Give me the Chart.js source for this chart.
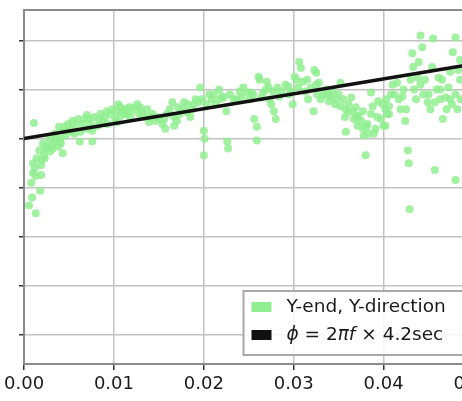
<!DOCTYPE html>
<html>
<head>
<meta charset="utf-8">
<script src="https://cdn.jsdelivr.net/npm/chart.js@4"></script>
<style>
  html, body { margin: 0; padding: 0; overflow: hidden; background: #fff; }
  canvas { display: block; }
</style>
</head>
<body>
<canvas id="grafico" width="520" height="401"></canvas>
<script>
// scatter points (frequency, phase)
const pointX = [
  0.0011, 0.0013, 0.0009, 0.0018, 0.0010, 0.0013, 0.0019, 0.0019, 0.0022, 0.0029,
  0.0024, 0.0030, 0.0034, 0.0040, 0.0038, 0.0043, 0.0041, 0.0046, 0.0049, 0.0052,
  0.0057, 0.0062, 0.0063, 0.0070, 0.0071, 0.0076, 0.0076, 0.0082, 0.0087, 0.0093,
  0.0101, 0.0107, 0.0107, 0.0104, 0.0112,
  0.00055, 0.0008, 0.0012, 0.0014, 0.0010, 0.0017, 0.0021, 0.0019,
  0.0023, 0.0025, 0.0028, 0.0032, 0.0034, 0.0036, 0.0039, 0.0043, 0.0045, 0.0050,
  0.0054, 0.0056, 0.0060, 0.0065, 0.0067, 0.0072, 0.0074, 0.0078, 0.0083, 0.0085,
  0.0090, 0.0092, 0.0096, 0.0098, 0.0103, 0.0105, 0.0109,
  0.0113, 0.0117, 0.0126, 0.0128, 0.0131, 0.0139, 0.0146, 0.0154, 0.0157, 0.0165,
  0.0167, 0.0170, 0.0178, 0.0181, 0.0187, 0.0194, 0.0196, 0.0200, 0.0201, 0.0200,
  0.0206, 0.0209, 0.0217, 0.0220, 0.0225, 0.0226, 0.0227,
  0.0115, 0.0118, 0.0120, 0.0123, 0.0129, 0.0134, 0.0137, 0.0140, 0.0143, 0.0148,
  0.0151, 0.0156, 0.0159, 0.0162, 0.0167, 0.0171, 0.0173, 0.0176, 0.0182, 0.0185,
  0.0189, 0.0191, 0.0198,
  0.0233, 0.0240, 0.0248, 0.0253, 0.0256, 0.0259, 0.0259, 0.0261, 0.0262, 0.0266,
  0.0270, 0.0273, 0.0275, 0.0278, 0.0280, 0.0284, 0.0294, 0.0299, 0.0301, 0.0306,
  0.0308, 0.0310, 0.0316, 0.0322, 0.0323, 0.0325,
  0.0203, 0.0211, 0.0213, 0.0218, 0.0222, 0.0229, 0.0236, 0.0242, 0.0244, 0.0251,
  0.0255, 0.0264, 0.0269, 0.0272, 0.0277, 0.0282, 0.0286, 0.0291, 0.0295, 0.0297,
  0.0303, 0.0305, 0.0313, 0.0315, 0.0319, 0.0326, 0.0330,
  0.0325, 0.0328, 0.0333, 0.0336, 0.0341, 0.0347, 0.0352, 0.0352, 0.0358, 0.0358,
  0.0361, 0.0364, 0.0367, 0.0371, 0.0372, 0.0377, 0.0378, 0.0380, 0.0382, 0.0386,
  0.0388, 0.0389, 0.0393, 0.0394, 0.0400, 0.0402, 0.0406,
  0.0337, 0.0339, 0.0344, 0.0346, 0.0350, 0.0355, 0.0357, 0.0361, 0.0366, 0.0369,
  0.0370, 0.0375, 0.0377, 0.0381, 0.0383, 0.0386, 0.0391, 0.0397, 0.0399, 0.0403,
  0.0408,
  0.0406, 0.0404, 0.0402, 0.0410, 0.0415, 0.0421, 0.0424, 0.0427, 0.0428, 0.0429,
  0.0432, 0.0433, 0.0438, 0.0439, 0.0441, 0.0443, 0.0444, 0.0449, 0.0454, 0.0455,
  0.0457, 0.0457, 0.0461, 0.0463, 0.0466, 0.0469, 0.0474, 0.0476, 0.0477, 0.0480,
  0.0480, 0.0482, 0.0485, 0.0485,
  0.0412, 0.0417, 0.0419, 0.0422, 0.0425, 0.0430, 0.0434, 0.0436, 0.0441, 0.0446,
  0.0450, 0.0452, 0.0459, 0.0463, 0.0465, 0.0470, 0.0472, 0.0474, 0.0480, 0.0483,
  0.0486
];
const pointY = [
  0.32, -1.52, -1.20, -1.06, -0.70, -0.76, -0.74, -0.54, -0.34, -0.26,
  -0.20, -0.14, -0.06, 0.00, -0.16, -0.30, -0.10, 0.06, 0.30, 0.14,
  0.26, -0.06, 0.14, 0.48, 0.20, -0.06, 0.16, 0.26, 0.36, 0.30,
  0.40, 0.64, 0.46, 0.34, 0.50,
  -1.36, -0.90, -0.60, -0.40, -0.50, -0.24, -0.10, -0.44,
  -0.40, -0.16, 0.00, -0.20, 0.10, 0.00, 0.24, 0.16, 0.24, 0.20,
  0.36, 0.10, 0.40, 0.30, 0.40, 0.40, 0.30, 0.44, 0.40, 0.50,
  0.44, 0.56, 0.50, 0.60, 0.56, 0.70, 0.60,
  0.60, 0.64, 0.70, 0.50, 0.54, 0.34, 0.36, 0.30, 0.20, 0.74,
  0.26, 0.36, 0.74, 0.54, 0.60, 0.74, 1.04, 0.16, 0.00, -0.34,
  0.90, 0.80, 1.00, 0.86, 0.56, -0.06, -0.20,
  0.50, 0.44, 0.56, 0.64, 0.64, 0.44, 0.60, 0.44, 0.50, 0.44,
  0.40, 0.40, 0.50, 0.60, 0.44, 0.64, 0.50, 0.60, 0.70, 0.44,
  0.70, 0.80, 0.80,
  0.80, 0.96, 0.94, 0.94, 0.40, 0.24, -0.04, 1.26, 1.20, 0.94,
  1.16, 0.80, 0.70, 0.56, 0.40, 0.86, 1.06, 0.70, 1.26, 1.56,
  1.44, 1.16, 0.80, 0.56, 1.40, 1.10,
  0.70, 0.90, 0.70, 0.80, 0.84, 0.90, 0.80, 0.84, 1.04, 0.80,
  0.90, 0.84, 1.00, 1.04, 0.96, 1.04, 0.96, 1.10, 0.90, 0.96,
  1.20, 1.04, 0.96, 1.20, 1.04, 0.90, 0.80,
  1.34, 1.14, 0.90, 1.00, 0.86, 0.80, 0.66, 1.14, 0.60, 0.14,
  0.54, 0.84, 0.40, 0.26, 0.46, 0.20, 0.06, -0.34, 0.30, 0.94,
  0.66, 0.10, 0.44, 0.76, 0.26, 0.60, 0.50,
  0.90, 0.76, 0.96, 0.70, 0.90, 0.80, 0.44, 0.70, 0.56, 0.64,
  0.44, 0.36, 0.56, 0.24, 0.10, 0.50, 0.20, 0.40, 0.70, 0.80,
  0.90,
  0.66, 0.50, 0.26, 1.10, 1.14, 0.86, 0.36, -0.24, -0.50, -1.44,
  1.74, 1.46, 1.24, 1.56, 2.10, 1.86, 0.90, 0.74, 1.46, 2.04,
  -0.64, 0.74, 1.24, 1.00, 0.40, 0.84, 1.36, 0.70, 1.76, 2.06,
  -0.84, 0.60, 1.20, 1.60,
  0.90, 0.80, 0.60, 1.00, 0.60, 1.20, 1.00, 0.80, 1.10, 1.20,
  0.90, 0.60, 1.00, 0.80, 1.20, 0.60, 1.04, 0.80, 0.90, 1.40,
  0.80
];
// fitted line  phi = 2*pi*f * 4.2 s
const fitX = [0, 0.05];
const fitY = [0, 1.52];

const legendRows = ['Y-end, Y-direction', 'ϕ = 2πf × 4.2sec'];
const fitLabelParts = [['ϕ', true], [' = 2', false], ['πf', true], [' × 4.2sec', false]];

const mplLegend = {
  id: 'mplLegend',
  afterDraw(chart) {
    const { ctx, chartArea: a } = chart;
    ctx.save();
    // top spine
    ctx.strokeStyle = '#8a8a8a';
    ctx.lineWidth = 2;
    ctx.beginPath();
    ctx.moveTo(a.left, a.top);
    ctx.lineTo(a.right, a.top);
    ctx.stroke();

    const w = 221, h = 64;
    const x0 = a.right - 9 - w, y0 = a.bottom - 9 - h;
    ctx.fillStyle = 'rgba(255,255,255,0.85)';
    ctx.fillRect(x0, y0, w, h);
    ctx.strokeStyle = '#a8a8a8';
    ctx.lineWidth = 2;
    ctx.strokeRect(x0, y0, w, h);

    const rowY = [y0 + 16, y0 + 44];
    ctx.fillStyle = '#90ee90';
    ctx.fillRect(x0 + 8, rowY[0] - 5, 20, 10);
    ctx.fillStyle = '#111';
    ctx.fillRect(x0 + 8, rowY[1] - 5, 20, 10);

    ctx.textBaseline = 'middle';
    ctx.fillStyle = '#1a1a1a';
    ctx.font = '18.5px "DejaVu Sans"';
    ctx.fillText(legendRows[0], x0 + 43, rowY[0]);
    let tx = x0 + 43;
    fitLabelParts.forEach(([t, it]) => {
      ctx.font = (it ? 'italic ' : '') + '18.5px "DejaVu Sans"';
      ctx.fillText(t, tx, rowY[1]);
      tx += ctx.measureText(t).width;
    });
    ctx.restore();
  }
};

const gridBase = { color: '#c2c2c2', lineWidth: 1.5, tickColor: '#333', tickWidth: 1.5 };

const ctxGrafico = document.getElementById('grafico').getContext('2d');
new Chart(ctxGrafico, {
  type: 'scatter',
  data: {
    datasets: [{
      label: legendRows[0],
      data: pointX.map((x, i) => ({ x: x, y: pointY[i] })),
      backgroundColor: 'rgba(144,238,144,0.85)',
      borderWidth: 0,
      pointRadius: 4,
      order: 2
    }, {
      label: legendRows[1],
      data: fitX.map((x, i) => ({ x: x, y: fitY[i] })),
      showLine: true,
      borderColor: '#111',
      borderWidth: 3.5,
      pointRadius: 0,
      order: 1
    }]
  },
  options: {
    responsive: false,
    animation: false,
    layout: { padding: { left: 16, top: 10, right: 46.5, bottom: 1.4 } },
    plugins: { legend: { display: false }, tooltip: { enabled: false } },
    scales: {
      x: {
        type: 'linear',
        min: 0,
        max: 0.05,
        ticks: {
          stepSize: 0.01,
          includeBounds: false,
          autoSkip: false,
          maxRotation: 0,
          padding: 4,
          color: '#1a1a1a',
          font: { family: 'DejaVu Sans', size: 18, lineHeight: 1.2 },
          callback: v => v.toFixed(2)
        },
        grid: Object.assign({ tickLength: 6 }, gridBase),
        border: { color: '#8a8a8a', width: 2 }
      },
      y: {
        min: -4.59,
        max: 2.62,
        ticks: { display: false, stepSize: 1, includeBounds: false },
        grid: Object.assign({ tickLength: 5 }, gridBase),
        border: { color: '#8a8a8a', width: 2 }
      }
    }
  },
  plugins: [mplLegend]
});
</script>
</body>
</html>
